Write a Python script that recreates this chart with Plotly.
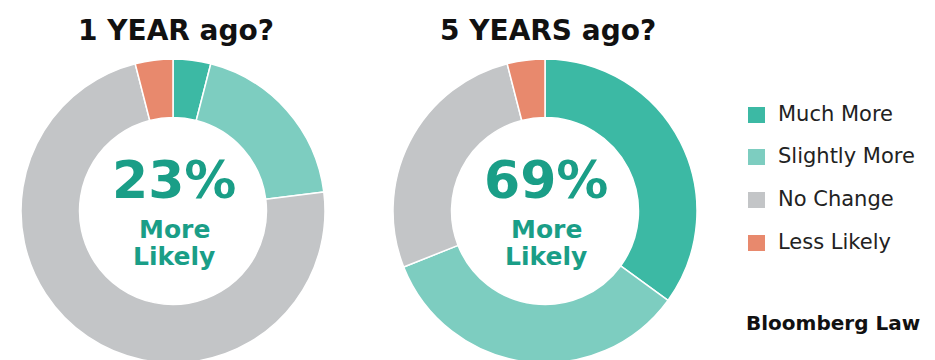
import plotly.graph_objects as go

categories = ["Much More", "Slightly More", "No Change", "Less Likely"]
one_year = [4, 19, 73, 4]
five_years = [35, 34, 27, 4]
titles = ["1 YEAR ago?", "5 YEARS ago?"]
center_pct = ["23%", "69%"]
colors = ["#3cb9a4", "#7dcdc0", "#c3c5c7", "#e8896d"]

W, H = 935, 360
OFF = 8  # page body margin offset
R = 152
centers_x = [173 - OFF, 545 - OFF]
center_y = 211 - OFF  # from top

FONT = "DejaVu Sans"
TEAL = "#1a9e87"


def px(x):
    return x / W


def py(y_top):
    return 1 - y_top / H


fig = go.Figure()
for vals, cx in zip([one_year, five_years], centers_x):
    fig.add_trace(go.Pie(
        labels=categories, values=vals, sort=False, direction="clockwise",
        rotation=0, hole=0.615, textinfo="none", hoverinfo="label+value",
        marker=dict(colors=colors, line=dict(color="white", width=1.5)),
        domain=dict(x=[px(cx - R), px(cx + R)],
                    y=[py(center_y + R), py(center_y - R)]),
        showlegend=False,
    ))

ann = []
shapes = []
for t, pct, cx in zip(titles, center_pct, centers_x):
    ann.append(dict(text=f"<b>{t}</b>", x=px(cx + 3), y=py(22), xref="paper", yref="paper",
                    showarrow=False, font=dict(family=FONT, size=28, color="#111111"),
                    xanchor="center", yanchor="middle"))
    ann.append(dict(text=f"<b>{pct}</b>", x=px(cx + 1), y=py(172), xref="paper", yref="paper",
                    showarrow=False, font=dict(family=FONT, size=52, color=TEAL),
                    xanchor="center", yanchor="middle"))
    ann.append(dict(text="<b>More</b>", x=px(cx + 1), y=py(221), xref="paper", yref="paper",
                    showarrow=False, font=dict(family=FONT, size=25, color=TEAL),
                    xanchor="center", yanchor="middle"))
    ann.append(dict(text="<b>Likely</b>", x=px(cx + 1), y=py(248), xref="paper", yref="paper",
                    showarrow=False, font=dict(family=FONT, size=25, color=TEAL),
                    xanchor="center", yanchor="middle"))

legend_y = [115, 157, 200, 243]
for cat, col, ly in zip(categories, colors, legend_y):
    ly = ly - OFF
    shapes.append(dict(type="rect", xref="paper", yref="paper",
                       x0=px(748 - OFF), x1=px(765 - OFF), y0=py(ly + 8), y1=py(ly - 8),
                       fillcolor=col, line=dict(width=0)))
    ann.append(dict(text=cat, x=px(776 - OFF), y=py(ly - 1), xref="paper", yref="paper",
                    showarrow=False, font=dict(family=FONT, size=21, color="#222222"),
                    xanchor="left", yanchor="middle"))

ann.append(dict(text="<b>Bloomberg Law</b>", x=px(744 - OFF), y=py(325 - OFF - 2), xref="paper", yref="paper",
                showarrow=False, font=dict(family=FONT, size=20, color="#111111"),
                xanchor="left", yanchor="middle"))

fig.update_layout(width=W, height=H, margin=dict(l=0, r=0, t=0, b=0),
                  paper_bgcolor="white", plot_bgcolor="white",
                  annotations=ann, shapes=shapes)
fig.write_html("out.html")
